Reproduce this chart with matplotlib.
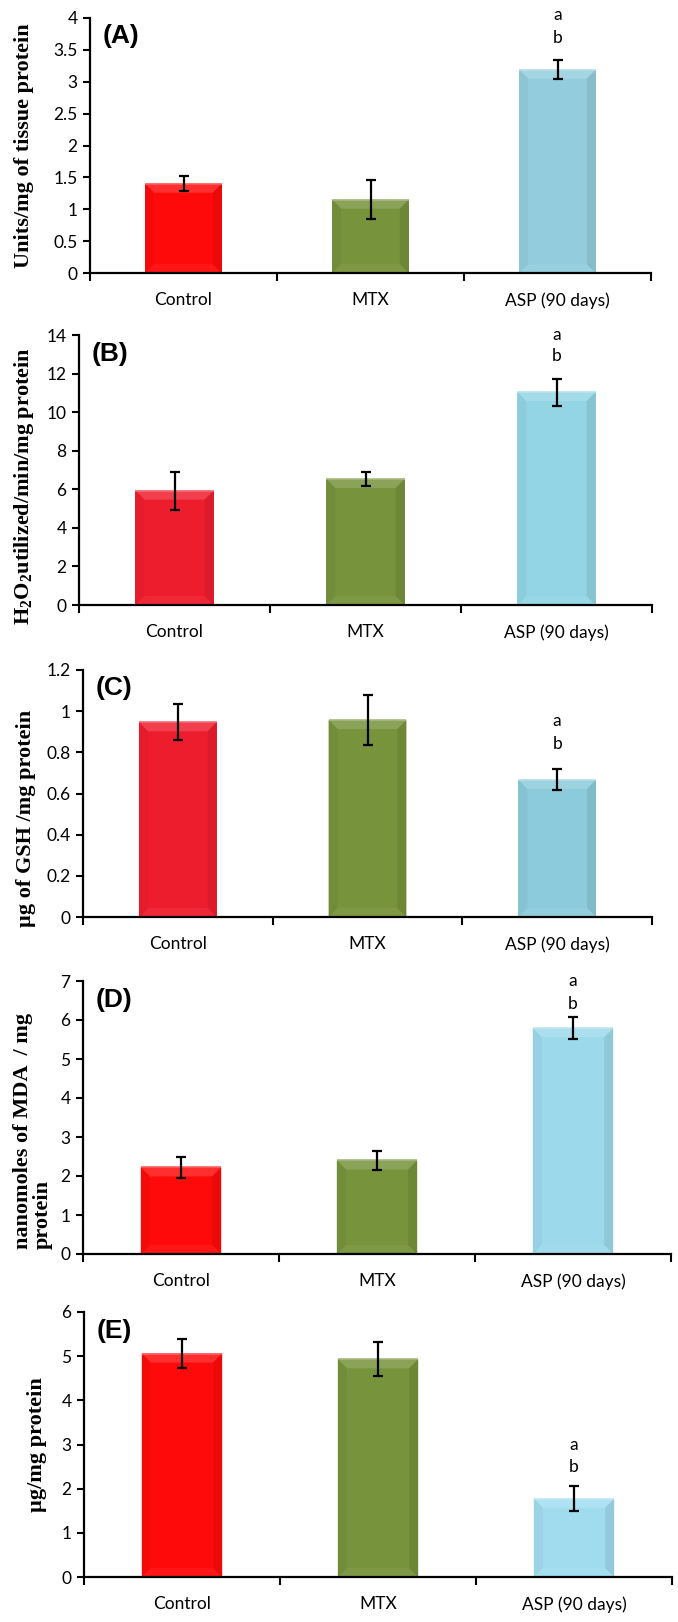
import numpy as np
import matplotlib
matplotlib.use("Agg")
import matplotlib.pyplot as plt
from matplotlib.patches import Polygon
from matplotlib.colors import to_rgb

plt.rcParams["mathtext.fontset"] = "custom"
plt.rcParams["mathtext.rm"] = "Liberation Serif"
plt.rcParams["mathtext.bf"] = "Liberation Serif:bold"

groups = ["Control", "MTX", "ASP (90 days)"]

# panel values (mean, error)
units_mean = [1.40, 1.15, 3.19]
units_err = [0.12, 0.31, 0.145]
h2o2_mean = [5.93, 6.53, 11.04]
h2o2_err = [0.98, 0.36, 0.70]
gsh_mean = [0.946, 0.957, 0.666]
gsh_err = [0.088, 0.122, 0.051]
mda_mean = [2.22, 2.40, 5.79]
mda_err = [0.27, 0.235, 0.285]
prot_mean = [5.06, 4.93, 1.77]
prot_err = [0.32, 0.38, 0.28]

panel_labels = ["(A)", "(B)", "(C)", "(D)", "(E)"]
ylabels = ["Units/mg of tissue protein",
           r"H$_\mathbf{2}$O$_\mathbf{2}$utilized/min/mg protein",
           "µg of GSH /mg protein",
           "nanomoles of MDA  / mg\nprotein",
           "µg/mg protein"]
ymax = [4, 14, 1.2, 7, 6]
ystep = [0.5, 2, 0.2, 1, 1]
# y positions of the "a" / "b" letters above the ASP bar
sig_a = [4.05, 14.0, 0.95, 7.0, 3.0]
sig_b = [3.69, 12.9, 0.84, 6.42, 2.5]

colors = [["#FF0A0A", "#77933C", "#93CDDD"],
          ["#EE1D2E", "#77933C", "#93D5E4"],
          ["#EE1D2E", "#77933C", "#8CCBDB"],
          ["#FF0A0A", "#77933C", "#9CD9EA"],
          ["#FF0A0A", "#77933C", "#A0DCEE"]]

# axes boxes in pixels: left, right, top, bottom
W, H = 678, 1622
boxes = [(90, 651, 18, 273),
         (79, 652, 335, 605),
         (83, 652, 670, 917),
         (83, 671, 981, 1254),
         (84, 672, 1312, 1577)]
ylab_x = [24, 24, 26, 33, 37]
ylab_y = [0.5, 0.44, 0.40, 0.45, 0.5]

means = [units_mean, h2o2_mean, gsh_mean, mda_mean, prot_mean]
errs = [units_err, h2o2_err, gsh_err, mda_err, prot_err]

tick_font = ["Lato", "DejaVu Sans"]
label_font = ["Liberation Serif", "DejaVu Serif"]

fig = plt.figure(figsize=(W / 100, H / 100), dpi=100)
x = np.arange(len(groups))
bw = 0.41


def mix(c, other, t):
    c = np.array(to_rgb(c))
    o = np.array(to_rgb(other))
    return tuple(c * (1 - t) + o * t)


def bevel(ax, xc, h, col, wpx, hpx, top):
    # fake Excel bevel: light top band, slightly darker sides
    bx = 9 / wpx * 3
    by = 9 / hpx * top
    if h < 2 * by:
        return
    l, r = xc - bw / 2, xc + bw / 2
    parts = [
        ([(l, h), (r, h), (r - bx, h - by), (l + bx, h - by)], mix(col, "white", 0.15)),
        ([(l, 0), (r, 0), (r - bx, by), (l + bx, by)], mix(col, "white", 0.05)),
        ([(l, 0), (l, h), (l + bx, h - by), (l + bx, by)], mix(col, "black", 0.04)),
        ([(r, 0), (r, h), (r - bx, h - by), (r - bx, by)], mix(col, "black", 0.08)),
    ]
    for pts, c in parts:
        ax.add_patch(Polygon(pts, closed=True, facecolor=c, edgecolor="none", zorder=2.5))
    ax.plot([l, r], [h, h], color=mix(col, "white", 0.35), lw=1.2, zorder=2.6,
            solid_capstyle="butt")


for i in range(5):
    l, r, t, b = boxes[i]
    ax = fig.add_axes([l / W, (H - b) / H, (r - l) / W, (b - t) / H])
    ax.bar(x, means[i], width=bw, color=colors[i], edgecolor="none", zorder=2)
    for j in range(3):
        bevel(ax, x[j], means[i][j], colors[i][j], r - l, b - t, ymax[i])
    ax.errorbar(x, means[i], yerr=errs[i], fmt="none", ecolor="black",
                elinewidth=1.6, capsize=3.5, capthick=1.6, zorder=3)
    ax.text(x[2], sig_a[i], "a", ha="center", va="center", fontsize=12.5, family=tick_font)
    ax.text(x[2], sig_b[i], "b", ha="center", va="center", fontsize=12.5, family=tick_font)

    ax.set_xlim(-0.5, 2.5)
    ax.set_ylim(0, ymax[i])
    ax.set_yticks(np.arange(0, ymax[i] + ystep[i] / 2, ystep[i]))
    ax.yaxis.set_major_formatter(plt.FuncFormatter(lambda v, p: f"{v:g}"))
    ax.set_xticks(x)
    ax.set_xticklabels(groups)
    ax.set_xticks([-0.5, 0.5, 1.5, 2.5], minor=True)
    ax.tick_params(axis="x", which="major", length=0, pad=14, labelsize=12.5)
    ax.tick_params(axis="x", which="minor", length=6, width=1.5, direction="out")
    ax.tick_params(axis="y", length=5, width=1.5, direction="out", labelsize=12.5, pad=4)
    for lab in ax.get_xticklabels() + ax.get_yticklabels():
        lab.set_family(tick_font)
    for s in ["top", "right"]:
        ax.spines[s].set_visible(False)
    for s in ["left", "bottom"]:
        ax.spines[s].set_linewidth(1.6)

    ax.set_ylabel(ylabels[i], family=label_font, fontweight="bold", fontsize=16,
                  linespacing=1.0, va="center", multialignment="left")
    ax.yaxis.set_label_coords((ylab_x[i] - l) / (r - l), ylab_y[i])
    ax.text(0.022, 0.975, panel_labels[i], transform=ax.transAxes, ha="left", va="top",
            fontsize=19, fontweight="bold", family=["Liberation Sans", "DejaVu Sans"])

plt.savefig("out.png", dpi=100)
